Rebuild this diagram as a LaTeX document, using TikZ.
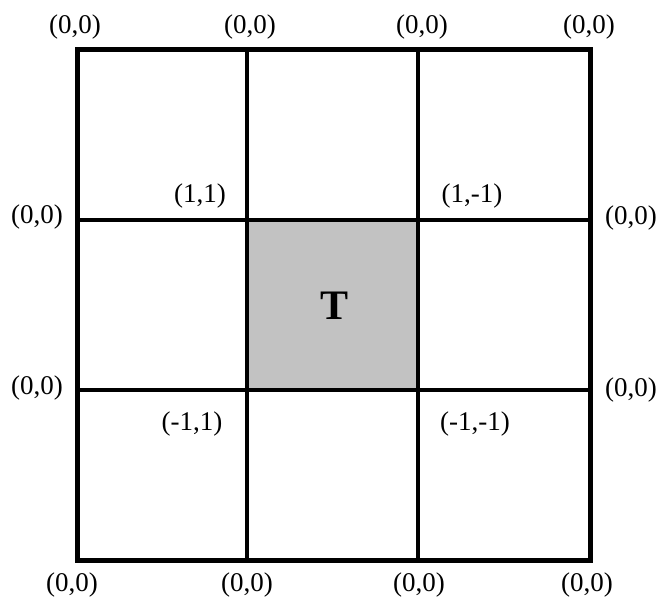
\documentclass[tikz,border=0pt]{standalone}
\usepackage{fontspec}
\setmainfont{Liberation Serif}
\begin{document}
\begin{tikzpicture}[x=1pt,y=-1pt,
  lbl/.style={inner sep=0pt,font=\fontsize{27}{32}\selectfont},
  gridline/.style={line width=4.4pt,line cap=rect},
  outerline/.style={line width=5pt,line join=miter}]
\useasboundingbox (0,0) rectangle (659,602);
% shaded center cell
\fill[black!24] (247,220) rectangle (418,390);
% grid
\draw[gridline] (247,50) -- (247,560);
\draw[gridline] (418,50) -- (418,560);
\draw[gridline] (77,220) -- (590,220);
\draw[gridline] (77,390) -- (590,390);
\draw[outerline] (77,50) rectangle (590,560);
% T
\node[inner sep=0pt,font=\fontsize{42}{46}\selectfont\bfseries] (T) at (335,306) {T};
% top labels
\node[lbl] (t1) at (75,27) {(0,0)};
\node[lbl] (t2) at (250,27) {(0,0)};
\node[lbl] (t3) at (422,27) {(0,0)};
\node[lbl] (t4) at (589,27) {(0,0)};
% bottom labels
\node[lbl] (b1) at (72,585) {(0,0)};
\node[lbl] (b2) at (247,585) {(0,0)};
\node[lbl] (b3) at (419,585) {(0,0)};
\node[lbl] (b4) at (587,585) {(0,0)};
% side labels
\node[lbl] (l1) at (37,217) {(0,0)};
\node[lbl] (l2) at (37,388) {(0,0)};
\node[lbl] (r1) at (631,218) {(0,0)};
\node[lbl] (r2) at (631,390) {(0,0)};
% inner labels
\node[lbl] (c1) at (200,196) {(1,1)};
\node[lbl] (c2) at (472,196) {(1,-1)};
\node[lbl] (c3) at (192,424) {(-1,1)};
\node[lbl] (c4) at (475,424) {(-1,-1)};
\end{tikzpicture}
\end{document}
